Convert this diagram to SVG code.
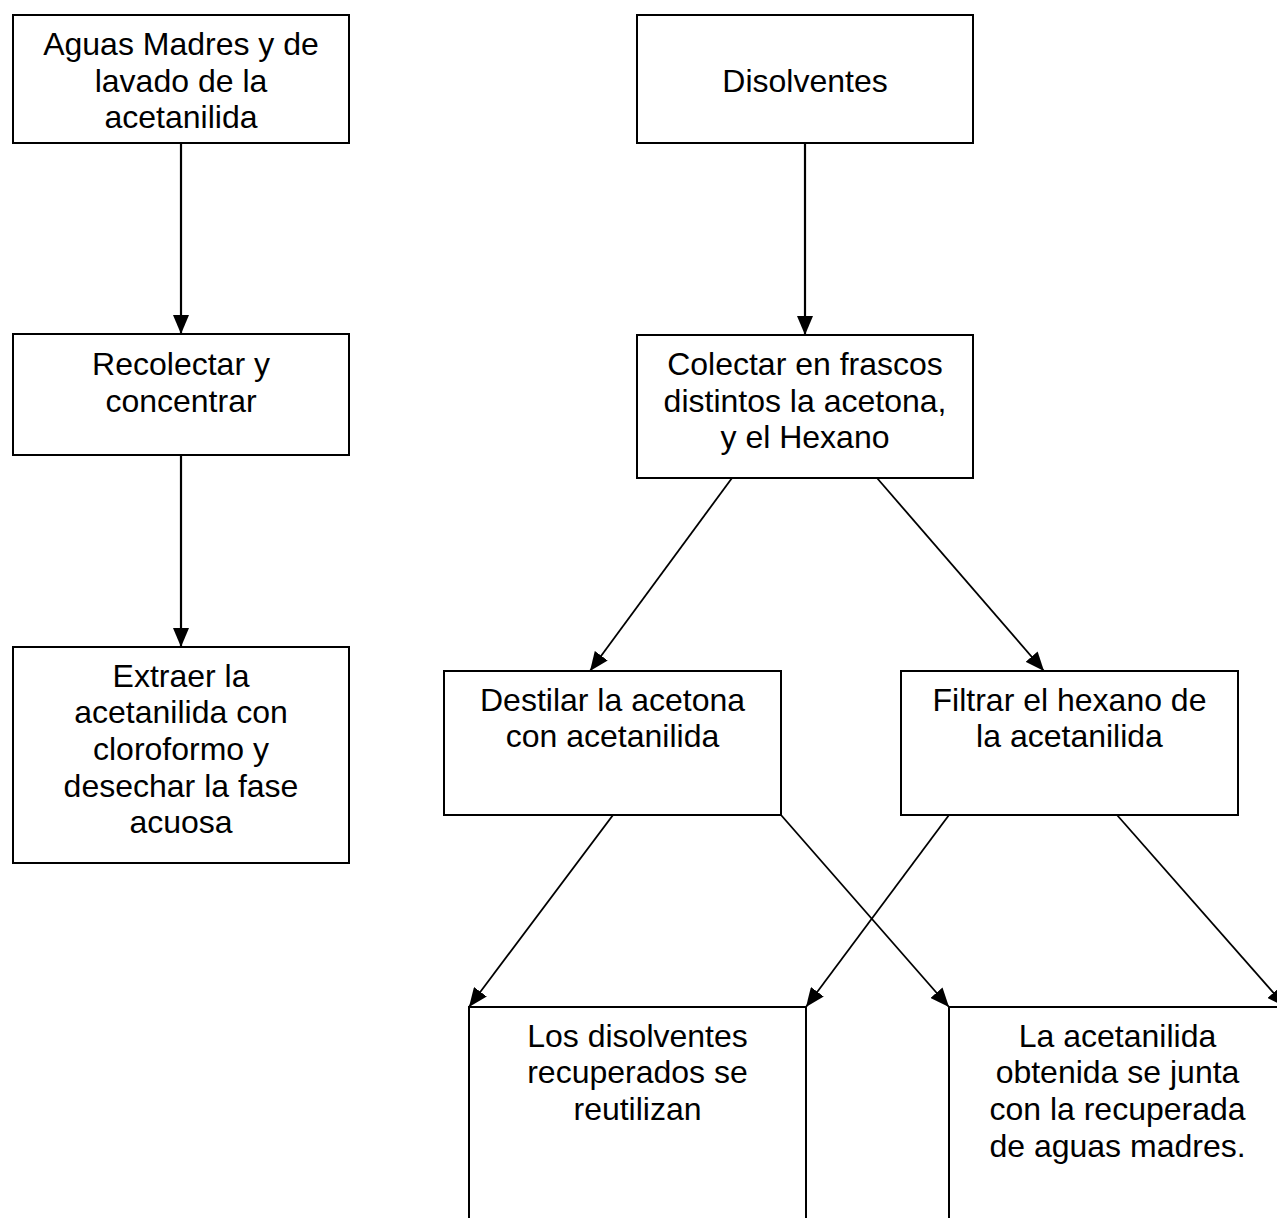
<svg xmlns="http://www.w3.org/2000/svg" width="1277" height="1218" viewBox="0 0 1277 1218">
<style>
.box{fill:#fff;stroke:#000;stroke-width:2}
.t{font-family:"Liberation Sans",Arial,sans-serif;font-size:32px;fill:#000;text-anchor:middle}
.c{stroke:#000;stroke-width:2.2;fill:none}
.d{stroke:#000;stroke-width:1.8;fill:none}
</style>
<defs>
<marker id="ah" markerUnits="userSpaceOnUse" markerWidth="19" markerHeight="16" refX="19" refY="8" orient="auto">
<path d="M0,0 L19,8 L0,16 z" fill="#000"/>
</marker>
</defs>
<rect width="1277" height="1218" fill="#fff"/>
<g id="connectors">
<line class="c" x1="181" y1="143" x2="181" y2="334" marker-end="url(#ah)"/>
<line class="c" x1="181" y1="455" x2="181" y2="647" marker-end="url(#ah)"/>
<line class="c" x1="805" y1="143" x2="805" y2="335" marker-end="url(#ah)"/>
<line class="d" x1="732" y1="478" x2="590" y2="671" marker-end="url(#ah)"/>
<line class="d" x1="877" y1="478" x2="1044" y2="671" marker-end="url(#ah)"/>
<line class="d" x1="613" y1="815" x2="469" y2="1007" marker-end="url(#ah)"/>
<line class="d" x1="781" y1="815" x2="949" y2="1007" marker-end="url(#ah)"/>
<line class="d" x1="949" y1="815" x2="806" y2="1007" marker-end="url(#ah)"/>
<line class="d" x1="1117" y1="815" x2="1286" y2="1007" marker-end="url(#ah)"/>
</g>
<g id="n1"><rect class="box" x="13" y="15" width="336" height="128"/>
<text class="t" x="181" y="55">Aguas Madres y de</text>
<text class="t" x="181" y="92">lavado de la</text>
<text class="t" x="181" y="128">acetanilida</text></g>
<g id="n2"><rect class="box" x="13" y="334" width="336" height="121"/>
<text class="t" x="181" y="375">Recolectar y</text>
<text class="t" x="181" y="412">concentrar</text></g>
<g id="n3"><rect class="box" x="13" y="647" width="336" height="216"/>
<text class="t" x="181" y="687">Extraer la</text>
<text class="t" x="181" y="723">acetanilida con</text>
<text class="t" x="181" y="760">cloroformo y</text>
<text class="t" x="181" y="797">desechar la fase</text>
<text class="t" x="181" y="833">acuosa</text></g>
<g id="n4"><rect class="box" x="637" y="15" width="336" height="128"/>
<text class="t" x="805" y="92">Disolventes</text></g>
<g id="n5"><rect class="box" x="637" y="335" width="336" height="143"/>
<text class="t" x="805" y="375">Colectar en frascos</text>
<text class="t" x="805" y="412">distintos la acetona,</text>
<text class="t" x="805" y="448">y el Hexano</text></g>
<g id="n6"><rect class="box" x="444" y="671" width="337" height="144"/>
<text class="t" x="612.5" y="711">Destilar la acetona</text>
<text class="t" x="612.5" y="747">con acetanilida</text></g>
<g id="n7"><rect class="box" x="901" y="671" width="337" height="144"/>
<text class="t" x="1069.5" y="711">Filtrar el hexano de</text>
<text class="t" x="1069.5" y="747">la acetanilida</text></g>
<g id="n8"><rect class="box" x="469" y="1007" width="337" height="230"/>
<text class="t" x="637.5" y="1047">Los disolventes</text>
<text class="t" x="637.5" y="1083">recuperados se</text>
<text class="t" x="637.5" y="1120">reutilizan</text></g>
<g id="n9"><rect class="box" x="949" y="1007" width="337" height="230"/>
<text class="t" x="1117.5" y="1047">La acetanilida</text>
<text class="t" x="1117.5" y="1083">obtenida se junta</text>
<text class="t" x="1117.5" y="1120">con la recuperada</text>
<text class="t" x="1117.5" y="1157">de aguas madres.</text></g>
</svg>
